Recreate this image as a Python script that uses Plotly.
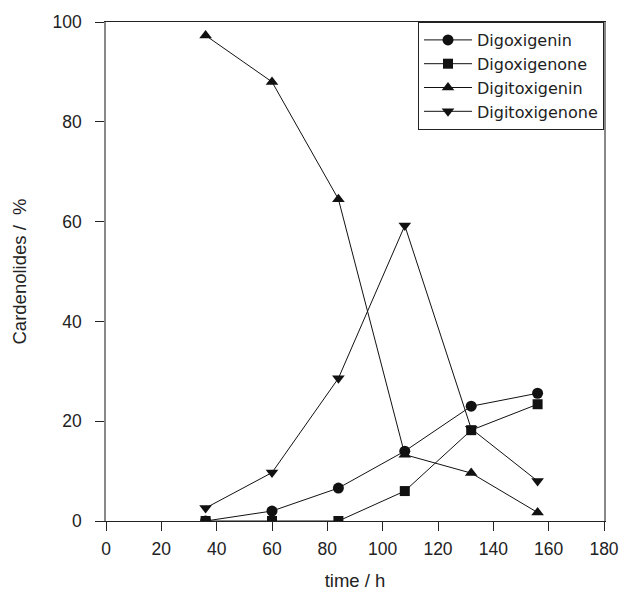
import plotly.graph_objects as go

time_h = [36, 60, 84, 108, 132, 156]
digoxigenin = [0.0, 2.0, 6.6, 14.0, 23.0, 25.6]
digoxigenone = [0.0, 0.0, 0.0, 6.0, 18.2, 23.4]
digitoxigenin = [97.3, 88.0, 64.5, 13.3, 9.6, 1.7]
digitoxigenone = [2.6, 9.7, 28.6, 59.2, 18.5, 8.0]

series = [
    ("Digoxigenin", digoxigenin, "circle", 11),
    ("Digoxigenone", digoxigenone, "square", 10),
    ("Digitoxigenin", digitoxigenin, "triangle-up", 11),
    ("Digitoxigenone", digitoxigenone, "triangle-down", 11),
]

fig = go.Figure()
for name, vals, sym, sz in series:
    fig.add_trace(go.Scatter(
        x=time_h, y=vals, name=name, mode="lines+markers",
        line=dict(color="#111", width=1),
        marker=dict(symbol=sym, size=sz, color="#111"),
    ))

fam = "Liberation Sans, Arial, sans-serif"

fig.update_layout(
    width=622, height=595,
    margin=dict(l=106, r=18, t=22, b=74),
    plot_bgcolor="white", paper_bgcolor="white",
    font=dict(family=fam, size=17.5, color="#222"),
    showlegend=True,
    legend=dict(
        x=1, y=1, xanchor="right", yanchor="top",
        bordercolor="#222", borderwidth=1, bgcolor="white",
        font=dict(family="DejaVu Sans, Liberation Sans, sans-serif", size=16, color="#222"),
        itemwidth=48,
    ),
    xaxis=dict(
        range=[0, 180], tickvals=[0, 20, 40, 60, 80, 100, 120, 140, 160, 180],
        showgrid=False, zeroline=False, automargin=False,
        showline=True, linecolor="#222", linewidth=1, mirror=True,
        ticks="outside", ticklen=9, tickcolor="#222", tickwidth=1,
        ticklabelstandoff=3,
        title=dict(text="time / h", standoff=16, font=dict(size=18.5)),
    ),
    yaxis=dict(
        range=[0, 100], tickvals=[0, 20, 40, 60, 80, 100],
        showgrid=False, zeroline=False, automargin=False,
        showline=True, linecolor="#888", linewidth=1.5, mirror=True,
        ticks="outside", ticklen=9, tickcolor="#222", tickwidth=1,
        ticklabelstandoff=10,
        title=dict(text="Cardenolides /\u00a0 %", standoff=21, font=dict(size=18.5)),
    ),
)

# remove the default page margin so the 622x595 figure fills the window exactly
fig.write_html(
    "out.html",
    config={"displayModeBar": False},
    post_script="document.body.style.margin='0';document.body.style.overflow='hidden';",
)
